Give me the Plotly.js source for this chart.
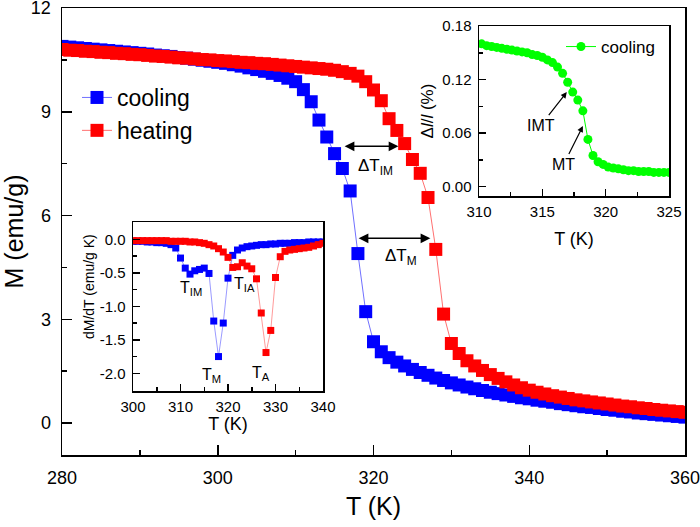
<!DOCTYPE html>
<html><head><meta charset="utf-8">
<script src="https://cdn.plot.ly/plotly-3.0.1.min.js"></script>
<style>html,body{margin:0;padding:0;background:#fff}#chart{width:700px;height:527px}</style>
</head><body><div id="chart"></div>
<script>
// ---- main M(T) data (1 K steps) ----
const tempMain = [280,281,282,283,284,285,286,287,288,289,290,291,292,293,294,295,296,297,298,299,
  300,301,302,303,304,305,306,307,308,309,310,311,312,313,314,315,316,317,318,319,
  320,321,322,323,324,325,326,327,328,329,330,331,332,333,334,335,336,337,338,339,
  340,341,342,343,344,345,346,347,348,349,350,351,352,353,354,355,356,357,358,359,360];
const coolingM = [10.89,10.87,10.85,10.83,10.81,10.79,10.77,10.75,10.73,10.71,
  10.69,10.67,10.64,10.62,10.60,10.57,10.55,10.52,10.49,10.46,
  10.43,10.40,10.36,10.32,10.27,10.22,10.17,10.11,10.05,9.97,
  9.87,9.64,9.29,8.76,8.27,7.79,7.36,6.71,4.90,3.22,
  2.35,2.06,1.89,1.76,1.65,1.55,1.46,1.38,1.30,1.23,
  1.16,1.10,1.04,0.99,0.94,0.89,0.85,0.81,0.77,0.73,
  0.70,0.66,0.63,0.60,0.56,0.53,0.50,0.47,0.45,0.42,
  0.39,0.37,0.34,0.32,0.29,0.27,0.25,0.23,0.21,0.19,0.17];
const heatingM = [10.80,10.78,10.77,10.75,10.74,10.72,10.71,10.69,10.68,10.66,
  10.65,10.63,10.61,10.60,10.58,10.56,10.55,10.53,10.51,10.50,
  10.48,10.47,10.45,10.43,10.42,10.40,10.39,10.37,10.35,10.33,
  10.31,10.29,10.27,10.25,10.23,10.20,10.16,10.11,10.03,9.87,
  9.63,9.32,8.80,8.46,8.08,7.62,7.22,6.52,5.02,3.15,
  2.30,2.01,1.80,1.65,1.52,1.40,1.29,1.19,1.10,1.02,
  0.95,0.89,0.84,0.79,0.75,0.71,0.67,0.64,0.61,0.58,
  0.55,0.52,0.49,0.47,0.44,0.42,0.39,0.37,0.35,0.33,0.31];

// ---- inset 1: dM/dT ----
const tempDeriv = [300,301,302,303,304,305,306,307,308,309,310,311,312,313,314,315,316,317,318,319,
  320,321,322,323,324,325,326,327,328,329,330,331,332,333,334,335,336,337,338,339,340];
const coolingDeriv = [-0.03,-0.03,-0.03,-0.04,-0.04,-0.05,-0.05,-0.06,-0.08,-0.13,
  -0.28,-0.43,-0.52,-0.47,-0.45,-0.43,-0.51,-1.22,-1.75,-1.25,
  -0.58,-0.24,-0.16,-0.13,-0.11,-0.10,-0.09,-0.08,-0.08,-0.07,
  -0.07,-0.06,-0.06,-0.06,-0.05,-0.05,-0.05,-0.04,-0.04,-0.04,-0.04];
const heatingDeriv = [-0.02,-0.02,-0.02,-0.02,-0.02,-0.02,-0.02,-0.02,-0.03,-0.03,
  -0.03,-0.03,-0.04,-0.04,-0.05,-0.06,-0.08,-0.10,-0.14,-0.19,
  -0.27,-0.42,-0.41,-0.35,-0.40,-0.44,-0.59,-1.10,-1.69,-1.36,
  -0.57,-0.26,-0.18,-0.16,-0.15,-0.14,-0.13,-0.12,-0.10,-0.08,-0.06];
const derivTickVals = [0,-0.5,-1,-1.5,-2];
const derivTickText = ['0.0','-0.5','-1.0','-1.5','-2.0'];

// ---- inset 2: strain (cooling) ----
const tempStrain = [310.2,310.6,311.0,311.4,311.8,312.2,312.6,313.0,313.4,313.8,314.2,314.6,315.0,315.4,315.8,
  316.2,316.6,317.0,317.4,317.8,318.2,318.6,319.0,319.4,319.8,320.2,320.6,321.0,321.4,321.8,
  322.2,322.6,323.0,323.4,323.8,324.2,324.6,325.0];
const strainVals = [0.160,0.158,0.157,0.156,0.155,0.154,0.153,0.152,0.151,0.150,0.148,0.147,0.145,0.142,0.139,
  0.134,0.127,0.117,0.106,0.097,0.085,0.053,0.035,0.028,0.025,0.022,0.021,0.020,0.019,0.018,
  0.018,0.017,0.017,0.017,0.016,0.016,0.016,0.016];

const F = 'Arial, "Liberation Sans", sans-serif';
const BLUE = '#0000ff', RED = '#ff0000', GREEN = '#00ff00';

const traces = [
  {x: tempMain, y: coolingM, name: 'cooling', mode: 'lines+markers', xaxis: 'x', yaxis: 'y',
   marker: {symbol: 'square', size: 13, color: BLUE}, line: {color: '#7070ff', width: 1}},
  {x: tempMain, y: heatingM, name: 'heating', mode: 'lines+markers', xaxis: 'x', yaxis: 'y',
   marker: {symbol: 'square', size: 13, color: RED}, line: {color: '#ff7070', width: 1}},
  {x: tempDeriv, y: coolingDeriv, name: 'cooling dM/dT', mode: 'lines+markers', xaxis: 'x2', yaxis: 'y2', showlegend: false,
   marker: {symbol: 'square', size: 7, color: BLUE}, line: {color: '#8080ff', width: 0.8}},
  {x: tempDeriv, y: heatingDeriv, name: 'heating dM/dT', mode: 'lines+markers', xaxis: 'x2', yaxis: 'y2', showlegend: false,
   marker: {symbol: 'square', size: 7, color: RED}, line: {color: '#ff8080', width: 0.8}},
  {x: tempStrain, y: strainVals, name: 'cooling', mode: 'lines+markers', xaxis: 'x3', yaxis: 'y3', legend: 'legend2',
   marker: {symbol: 'circle', size: 9, color: GREEN}, line: {color: GREEN, width: 1}}
];

function axBase(extra) {
  return Object.assign({showline: true, linewidth: 1.5, linecolor: '#000', mirror: true, showgrid: false,
    zeroline: false, ticks: 'inside', tickcolor: '#000', tickwidth: 1.5, color: '#000',
    ticklabeloverflow: 'allow'}, extra);
}

const layout = {
  width: 700, height: 527,
  margin: {l: 0, r: 0, t: 0, b: 0},
  paper_bgcolor: '#fff', plot_bgcolor: '#fff',
  font: {family: F, color: '#000'},
  xaxis: axBase({domain: [62/700, 685/700], range: [280, 360.0005], tick0: 280, dtick: 20, ticklen: 10,
    tickfont: {size: 18}, ticklabelstandoff: 6,
    minor: {dtick: 10, ticklen: 5, ticks: 'inside', tickwidth: 1.5, tickcolor: '#000'},
    title: {text: 'T (K)', font: {size: 25}, standoff: 10}}),
  yaxis: axBase({domain: [1-455/527, 1-8/527], range: [-0.925, 12.0005], tick0: 0, dtick: 3, ticklen: 10,
    tickfont: {size: 18}, ticklabelstandoff: 6,
    minor: {dtick: 1.5, ticklen: 5, ticks: 'inside', tickwidth: 1.5, tickcolor: '#000'},
    title: {text: 'M (emu/g)', font: {size: 25}, standoff: 14}}),
  xaxis2: axBase({domain: [133/700, 323/700], range: [300, 340], tick0: 300, dtick: 10, ticklen: 7, anchor: 'y2',
    tickfont: {size: 15}, ticklabelstandoff: 1,
    minor: {dtick: 5, ticklen: 4, ticks: 'inside', tickwidth: 1.5, tickcolor: '#000'},
    title: {text: 'T (K)', font: {size: 18}, standoff: 1}}),
  yaxis2: axBase({domain: [1-391/527, 1-222/527], range: [-2.264, 0.258], anchor: 'x2',
    tickmode: 'array', tickvals: derivTickVals, ticktext: derivTickText, ticklen: 7,
    tickfont: {size: 15}, ticklabelstandoff: 3,
    minor: {tickmode: 'linear', tick0: 0, dtick: 0.25, ticklen: 4, ticks: 'inside', tickwidth: 1.5, tickcolor: '#000'}}),
  xaxis3: axBase({domain: [479/700, 669/700], range: [310, 325], tick0: 310, dtick: 5, ticklen: 7, anchor: 'y3',
    tickfont: {size: 15}, ticklabelstandoff: 1,
    minor: {dtick: 2.5, ticklen: 4, ticks: 'inside', tickwidth: 1.5, tickcolor: '#000'},
    title: {text: 'T (K)', font: {size: 18}, standoff: 14}}),
  yaxis3: axBase({domain: [1-196/527, 1-26/527], range: [-0.0104, 0.18], anchor: 'x3',
    tick0: 0, dtick: 0.06, tickformat: '.2f', ticklen: 7,
    tickfont: {size: 15}, ticklabelstandoff: 3,
    minor: {dtick: 0.03, ticklen: 4, ticks: 'inside', tickwidth: 1.5, tickcolor: '#000'},
    title: {text: 'Δ<i>l</i>/<i>l</i> (%)', font: {size: 17}, standoff: 4}}),
  legend: {x: 77/700, xanchor: 'left', y: 1-76/527, yanchor: 'top', bgcolor: 'rgba(0,0,0,0)',
    font: {size: 23, family: F}, tracegroupgap: 0},
  legend2: {x: 561/700, xanchor: 'left', y: 1-29/527, yanchor: 'top', bgcolor: 'rgba(0,0,0,0)',
    font: {size: 17, family: F}},
  annotations: [
    {xref: 'x', yref: 'y', x: 323.2, y: 8.0, ax: 316.1, ay: 8.0, axref: 'x', ayref: 'y', text: '',
     showarrow: true, arrowhead: 2, startarrowhead: 2, arrowside: 'end+start', arrowsize: 1.3, arrowwidth: 1.5, arrowcolor: '#000'},
    {xref: 'x', yref: 'y', x: 327.3, y: 5.34, ax: 317.9, ay: 5.34, axref: 'x', ayref: 'y', text: '',
     showarrow: true, arrowhead: 2, startarrowhead: 2, arrowside: 'end+start', arrowsize: 1.3, arrowwidth: 1.5, arrowcolor: '#000'},
    {xref: 'x', yref: 'y', x: 320.2, y: 7.40, text: 'ΔT<sub>IM</sub>', showarrow: false, font: {size: 17}},
    {xref: 'x', yref: 'y', x: 323.5, y: 4.80, text: 'ΔT<sub>M</sub>', showarrow: false, font: {size: 17}},
    {xref: 'paper', yref: 'paper', x: 89/700, y: 1-287/527, xanchor: 'center', yanchor: 'middle',
     text: 'dM/dT (emu/g K)', textangle: -90, showarrow: false, font: {size: 14}},
    {xref: 'x2', yref: 'y2', x: 312.2, y: -0.73, text: 'T<sub>IM</sub>', showarrow: false, font: {size: 16}},
    {xref: 'x2', yref: 'y2', x: 323.4, y: -0.68, text: 'T<sub>IA</sub>', showarrow: false, font: {size: 16}},
    {xref: 'x2', yref: 'y2', x: 316.6, y: -2.04, text: 'T<sub>M</sub>', showarrow: false, font: {size: 16}},
    {xref: 'x2', yref: 'y2', x: 326.9, y: -2.01, text: 'T<sub>A</sub>', showarrow: false, font: {size: 16}},
    {xref: 'x3', yref: 'y3', x: 316.93, y: 0.106, ax: 314.89, ay: 0.069, axref: 'x3', ayref: 'y3', text: 'IMT',
     showarrow: true, arrowhead: 2, arrowsize: 1, arrowwidth: 1.2, arrowcolor: '#000', font: {size: 16}},
    {xref: 'x3', yref: 'y3', x: 318.2, y: 0.068, ax: 316.7, ay: 0.0254, axref: 'x3', ayref: 'y3', text: 'MT',
     showarrow: true, arrowhead: 2, arrowsize: 1, arrowwidth: 1.2, arrowcolor: '#000', font: {size: 16}}
  ]
};

Plotly.newPlot('chart', traces, layout, {displayModeBar: false, staticPlot: true});
</script></body></html>
